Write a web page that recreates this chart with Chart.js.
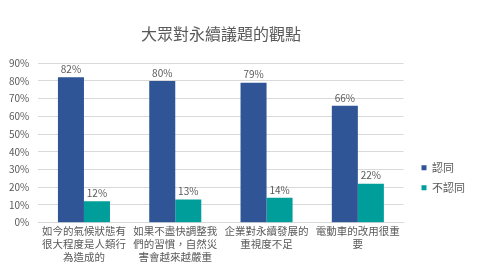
<!DOCTYPE html><html lang="zh-Hant">
<head>
  <meta charset="UTF-8" />
  <title>大眾對永續議題的觀點</title>
  <style>
    * { margin: 0; padding: 0; box-sizing: border-box; }
    body { background: #fff; }
    #wrap { width: 479px; height: 267px; }
  </style>
</head>
<body>
  <div id="wrap"><canvas id="chart"></canvas></div>
  <script src="https://cdn.jsdelivr.net/npm/chart.js"></script>
  <script>
    const categories = [
      ["如今的氣候狀態有", "很大程度是人類行", "為造成的"],
      ["如果不盡快調整我", "們的習慣，自然災", "害會越來越嚴重"],
      ["企業對永續發展的", "重視度不足"],
      ["電動車的改用很重", "要"]
    ];
    const agree = [82, 80, 79, 66];
    const disagree = [12, 13, 14, 22];
    const seriesNames = ["認同", "不認同"];
    const yTicks = [0, 10, 20, 30, 40, 50, 60, 70, 80, 90];

    const font = "'Noto Sans CJK TC', 'Noto Sans', sans-serif";
    const grey = "#595959";

    // draws the % above each bar
    const valueLabels = {
      id: "valueLabels",
      afterDatasetsDraw(chart) {
        const ctx = chart.ctx;
        ctx.save();
        ctx.font = "10px " + font;
        ctx.fillStyle = grey;
        ctx.textAlign = "center";
        ctx.textBaseline = "bottom";
        chart.data.datasets.forEach((ds, i) => {
          chart.getDatasetMeta(i).data.forEach((bar, j) => {
            ctx.fillText(ds.data[j] + "%", bar.x, bar.y - 3);
          });
        });
        ctx.restore();
      }
    };

    new Chart(document.getElementById("chart"), {
      type: "bar",
      data: {
        labels: categories,
        datasets: [
          { label: seriesNames[0], data: agree, backgroundColor: "#2F5597" },
          { label: seriesNames[1], data: disagree, backgroundColor: "#009E9A" }
        ]
      },
      options: {
        responsive: true,
        maintainAspectRatio: false,
        animation: false,
        categoryPercentage: 0.57,
        barPercentage: 1,
        layout: { padding: { left: 0, right: 4, top: 0, bottom: 1 } },
        plugins: {
          title: {
            display: true,
            text: "大眾對永續議題的觀點",
            fullSize: false,
            color: grey,
            font: { family: font, size: 16, weight: "normal" },
            padding: { top: 24, bottom: 20 }
          },
          legend: {
            position: "right",
            labels: {
              color: grey,
              font: { family: font, size: 11 },
              boxWidth: 5,
              boxHeight: 5,
              padding: 9
            },
            title: { display: true, text: " ", padding: { top: 80, bottom: 0 }, font: { size: 8 } }
          },
          tooltip: { enabled: false }
        },
        scales: {
          x: {
            grid: { display: false, drawTicks: false },
            border: { color: "#D9D9D9" },
            ticks: {
              color: grey,
              font: { family: font, size: 10.5, lineHeight: 1.25 },
              maxRotation: 0,
              autoSkip: false,
              padding: 2
            }
          },
          y: {
            min: 0,
            max: 90,
            afterBuildTicks(axis) {
              axis.ticks = yTicks.map(v => ({ value: v }));
            },
            grid: { color: "#D9D9D9", drawTicks: false },
            border: { display: false },
            ticks: {
              color: grey,
              font: { family: font, size: 10 },
              padding: 9,
              callback: v => v + "%"
            }
          },
          // empty strip between plot and legend
          gap: {
            type: "linear",
            position: "right",
            grid: { display: false },
            border: { display: false },
            ticks: { display: false },
            afterFit(scale) { scale.width = 9; }
          }
        }
      },
      plugins: [valueLabels]
    });
  </script>
</body>
</html>
